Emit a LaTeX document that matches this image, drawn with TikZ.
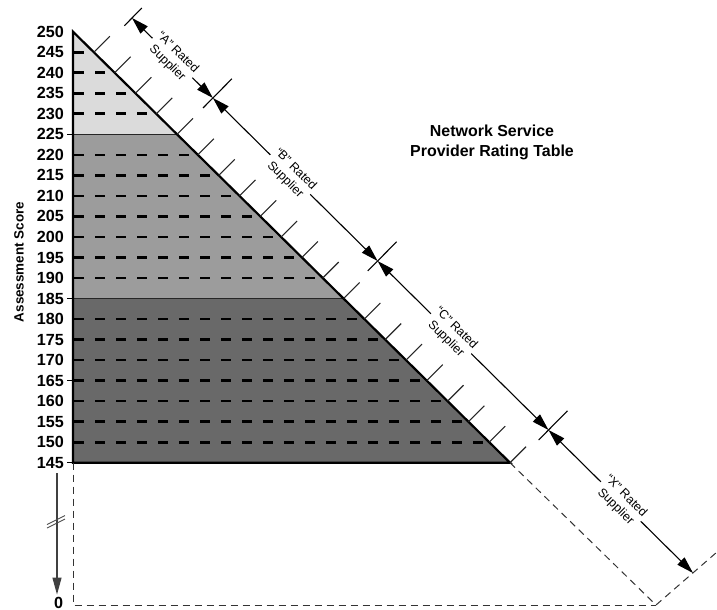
\documentclass[tikz,border=0pt]{standalone}
\usepackage{fontspec}
\setmainfont{Liberation Sans}
\usetikzlibrary{arrows.meta,calc}
\definecolor{lightg}{gray}{0.86}
\definecolor{midg}{gray}{0.61}
\definecolor{darkg}{gray}{0.41}
\begin{document}
\begin{tikzpicture}[x=1bp,y=-1bp,
  num/.style={font=\fontsize{16.2}{18}\selectfont\bfseries, inner sep=0pt, anchor=east},
  lab/.style={font=\fontsize{12.4}{14.8}\selectfont, align=center, fill=white, inner sep=1.5bp, sloped},
  dimline/.style={line width=1.1bp, {Triangle[length=17bp,width=10bp]}-{Triangle[length=17bp,width=10bp]}},
  bar/.style={line width=1.1bp},
  tickln/.style={line width=1.1bp, black!85},
  rowdash/.style={line width=2.6bp, dash pattern=on 10bp off 11bp},
  outline/.style={line width=2.2bp, line join=miter},
  guide/.style={line width=1bp, black!80, dash pattern=on 7bp off 5bp},
  titlef/.style={font=\fontsize{16}{20}\selectfont\bfseries, align=center},
]
\useasboundingbox (0,0) rectangle (717,610);

% key points
\coordinate (apex) at (73,31.7);
\coordinate (b225) at (73,134.3);
\coordinate (h225) at (177,134.3);
\coordinate (b185) at (73,298.5);
\coordinate (h185) at (343.5,298.5);
\coordinate (b145) at (73,462.7);
\coordinate (h145) at (510,462.7);
\coordinate (o) at (73,605);
\coordinate (c0) at (656,605);
\coordinate (ext) at (717,552);

% fills
\fill[lightg] (apex) -- (h225) -- (b225) -- cycle;
\fill[midg] (b225) -- (h225) -- (h185) -- (b185) -- cycle;
\fill[darkg] (b185) -- (h185) -- (h145) -- (b145) -- cycle;

% dashed rows
\begin{scope}
\clip (apex) -- (h145) -- (b145) -- cycle;
\foreach \v in {245,240,235,230,220,215,210,205,200,195,190,180,175,170,165,160,155,150}{
  \pgfmathsetmacro\yy{31.7+(250-\v)*4.105}
  \draw[rowdash] (74,\yy) -- (520,\yy);
}
\end{scope}

% region boundaries
\draw[line width=0.8bp, black!85] (b225) -- (h225);
\draw[line width=0.8bp, black!85] (b185) -- (h185);

% outline
\draw[outline] (apex) -- (h145) -- (b145) -- cycle;

% ticks on hypotenuse
\foreach \v in {245,240,...,145}{
  \pgfmathsetmacro\yy{31.7+(250-\v)*4.105}
  \pgfmathsetmacro\xx{73+(\yy-31.7)*1.0139}
  \draw[tickln] (\xx,\yy) -- ++(16,-16);
}

% axis ticks and labels
\foreach \v in {225,185,165,145}{
  \pgfmathsetmacro\yy{31.7+(250-\v)*4.105}
  \draw[line width=1.1bp] (67,\yy) -- (73,\yy);
}
\foreach \v in {250,245,...,145}{
  \pgfmathsetmacro\yy{31.7+(250-\v)*4.105}
  \node[num] (n\v) at (64,\yy) {\v};
}

\node[font=\fontsize{13.5}{15}\selectfont\bfseries, rotate=90] (axt) at (19,262) {Assessment Score};

% dashed extension
\draw[guide] (b145) -- (o) -- (c0);
\draw[guide] (h145) -- (c0) -- (ext);

% axis break arrow
\coordinate (ax0) at (57,473);
\node[num, anchor=center] (zero) at (58.5,602.5) {0};
\draw[line width=1.2bp, black!75, -{Triangle[length=17bp,width=9bp]}, shorten >=2bp] (ax0) -- (ax0 |- zero.north);
\draw[line width=0.9bp, black!70] (47,524.5) -- (65,515.5);
\draw[line width=0.9bp, black!70] (47,528) -- (65,519);

% dimension line
\coordinate (P1) at (132,18);
\coordinate (P2) at (212.9,98);
\coordinate (P3) at (377.6,261);
\coordinate (P4) at (548.5,430);
\coordinate (E) at (693,573);

\draw[bar] (P1) ++(-7.7,7.8) -- ++(17.5,-17.75);
\foreach \p in {P2,P3,P4}{
  \draw[bar] (\p) ++(-9.84,9.95) -- ++(28.8,-29.15);
}

\draw[dimline] (P1) -- (P2) node[lab, pos=0.5] (labA) {“A” Rated\\Supplier};
\draw[dimline] (P2) -- (P3) node[lab, pos=0.47] (labB) {“B” Rated\\Supplier};
\draw[dimline] (P3) -- (P4) node[lab, pos=0.43] (labC) {“C” Rated\\Supplier};
\draw[dimline] (P4) -- (E) node[lab, pos=0.5] (labX) {“X” Rated\\Supplier};

% title
\node[titlef] (title) at (492,142) {Network Service\\Provider Rating Table};
\end{tikzpicture}
\end{document}
